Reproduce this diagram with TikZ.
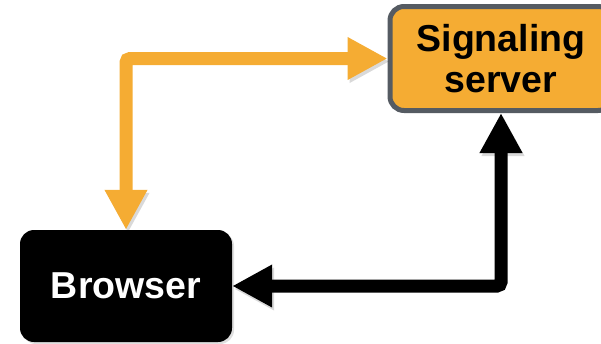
\documentclass[tikz,border=0pt]{standalone}
\usepackage{fontspec}
\setmainfont{Liberation Sans}
\usetikzlibrary{arrows.meta,shadows}
\definecolor{sigorange}{HTML}{F5AC33}
\definecolor{sigborder}{HTML}{555B62}
\begin{document}
\begin{tikzpicture}[x=1pt,y=-1pt,
  box/.style={rounded corners=14pt, align=center, inner sep=0pt,
    font=\fontsize{37.5}{41}\selectfont\bfseries,
    drop shadow={shadow xshift=2pt, shadow yshift=-2pt, opacity=0.25}},
  link/.style={line width=13pt, rounded corners=4pt,
    {Triangle[width=40pt,length=40pt]}-{Triangle[width=40pt,length=40pt]},
    preaction={draw=black, opacity=0.15, transform canvas={shift={(2pt,-3pt)}}}}]
  \useasboundingbox (0,0) rectangle (601,343);
  \node[box, fill=sigorange, draw=sigborder, line width=5pt,
    minimum width=222pt, minimum height=104pt] (signaling) at (501,58.5)
    {Signaling\\server};
  \node[box, fill=black, text=white,
    minimum width=212pt, minimum height=112pt] (browser) at (126,286)
    {Browser};
  \draw[link, sigorange] (browser.north) |- (signaling.west);
  \draw[link, black] (signaling.south) |- (browser.east);
\end{tikzpicture}
\end{document}
